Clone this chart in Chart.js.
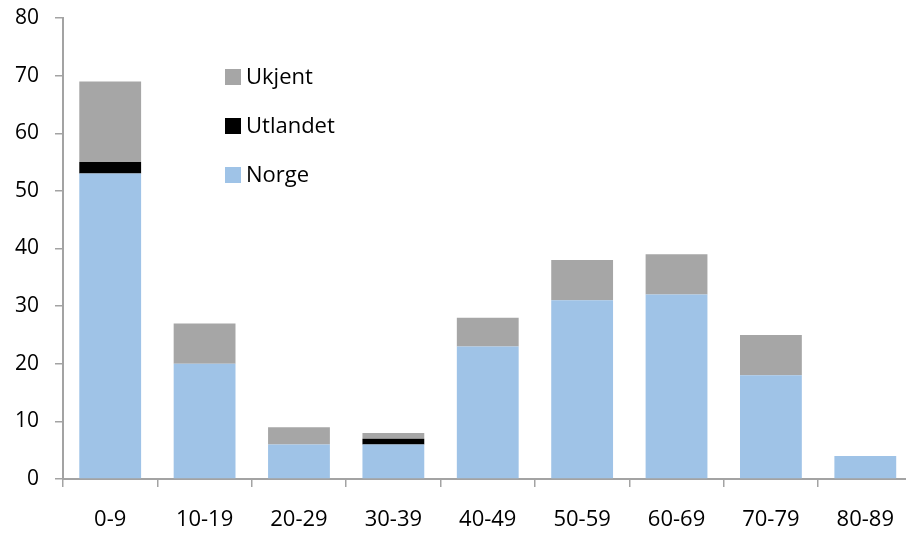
<!DOCTYPE html>
<html>
<head>
<meta charset="utf-8">
<script src="https://cdn.jsdelivr.net/npm/chart.js@4"></script>
<style>
  html, body { margin: 0; padding: 0; background: #fff; overflow: hidden; }
  #wrap { width: 914px; height: 533px; }
</style>
</head>
<body>
<div id="wrap"><canvas id="alderChart"></canvas></div>
<script>
// Aldersgrupper og antall per opprinnelse
const aldersgrupper = ['0-9', '10-19', '20-29', '30-39', '40-49', '50-59', '60-69', '70-79', '80-89'];
const norge    = [53, 20, 6, 6, 23, 31, 32, 18, 4];
const utlandet = [2, 0, 0, 1, 0, 0, 0, 0, 0];
const ukjent   = [14, 7, 3, 1, 5, 7, 7, 7, 0];
const yTicks   = [0, 10, 20, 30, 40, 50, 60, 70, 80];

const axisGray = '#a3a3a3';
const font = "'Open Sans', 'Liberation Sans', Arial, sans-serif";

// Legenden tegnes inne i plottet, øverste serie først
const innebygdLegende = {
  id: 'innebygdLegende',
  afterDraw(chart) {
    const ctx = chart.ctx;
    const items = chart.data.datasets.slice().reverse();
    ctx.save();
    ctx.font = "22px " + font;
    ctx.textBaseline = 'middle';
    items.forEach((ds, i) => {
      const y = 77 + i * 49;
      ctx.fillStyle = ds.backgroundColor;
      ctx.fillRect(225, y - 8, 16, 16);
      ctx.fillStyle = '#000';
      ctx.fillText(ds.label, 246, y + 1);
    });
    ctx.restore();
  }
};

new Chart(document.getElementById('alderChart'), {
  type: 'bar',
  data: {
    labels: aldersgrupper,
    datasets: [
      { label: 'Norge', data: norge, backgroundColor: '#9fc3e7' },
      { label: 'Utlandet', data: utlandet, backgroundColor: '#000000' },
      { label: 'Ukjent', data: ukjent, backgroundColor: '#a6a6a6' }
    ]
  },
  options: {
    responsive: true,
    maintainAspectRatio: false,
    animation: false,
    layout: { padding: { top: 18, right: 0, left: 0, bottom: 0 } },
    datasets: {
      bar: { barPercentage: 0.655, categoryPercentage: 1, borderWidth: 0 }
    },
    plugins: {
      legend: { display: false },
      tooltip: { enabled: false }
    },
    scales: {
      x: {
        stacked: true,
        border: { color: axisGray, width: 2 },
        grid: { drawOnChartArea: false, offset: true, tickLength: 8, tickColor: axisGray, lineWidth: 1.5 },
        ticks: { color: '#000', font: { family: font, size: 22 }, padding: 20, maxRotation: 0 },
        afterFit(scale) { scale.height = 54; }
      },
      y: {
        stacked: true,
        min: 0,
        max: 80,
        afterBuildTicks(scale) { scale.ticks = yTicks.map(v => ({ value: v })); },
        border: { color: axisGray, width: 2 },
        grid: { drawOnChartArea: false, tickLength: 8, tickColor: axisGray, lineWidth: 1.5 },
        ticks: { color: '#000', font: { family: font, size: 21 }, padding: 16 },
        afterFit(scale) {
          scale.width = 63;
          scale.paddingTop = 0;
          scale.paddingBottom = 0;
        }
      }
    }
  },
  plugins: [innebygdLegende]
});
</script>
</body>
</html>
